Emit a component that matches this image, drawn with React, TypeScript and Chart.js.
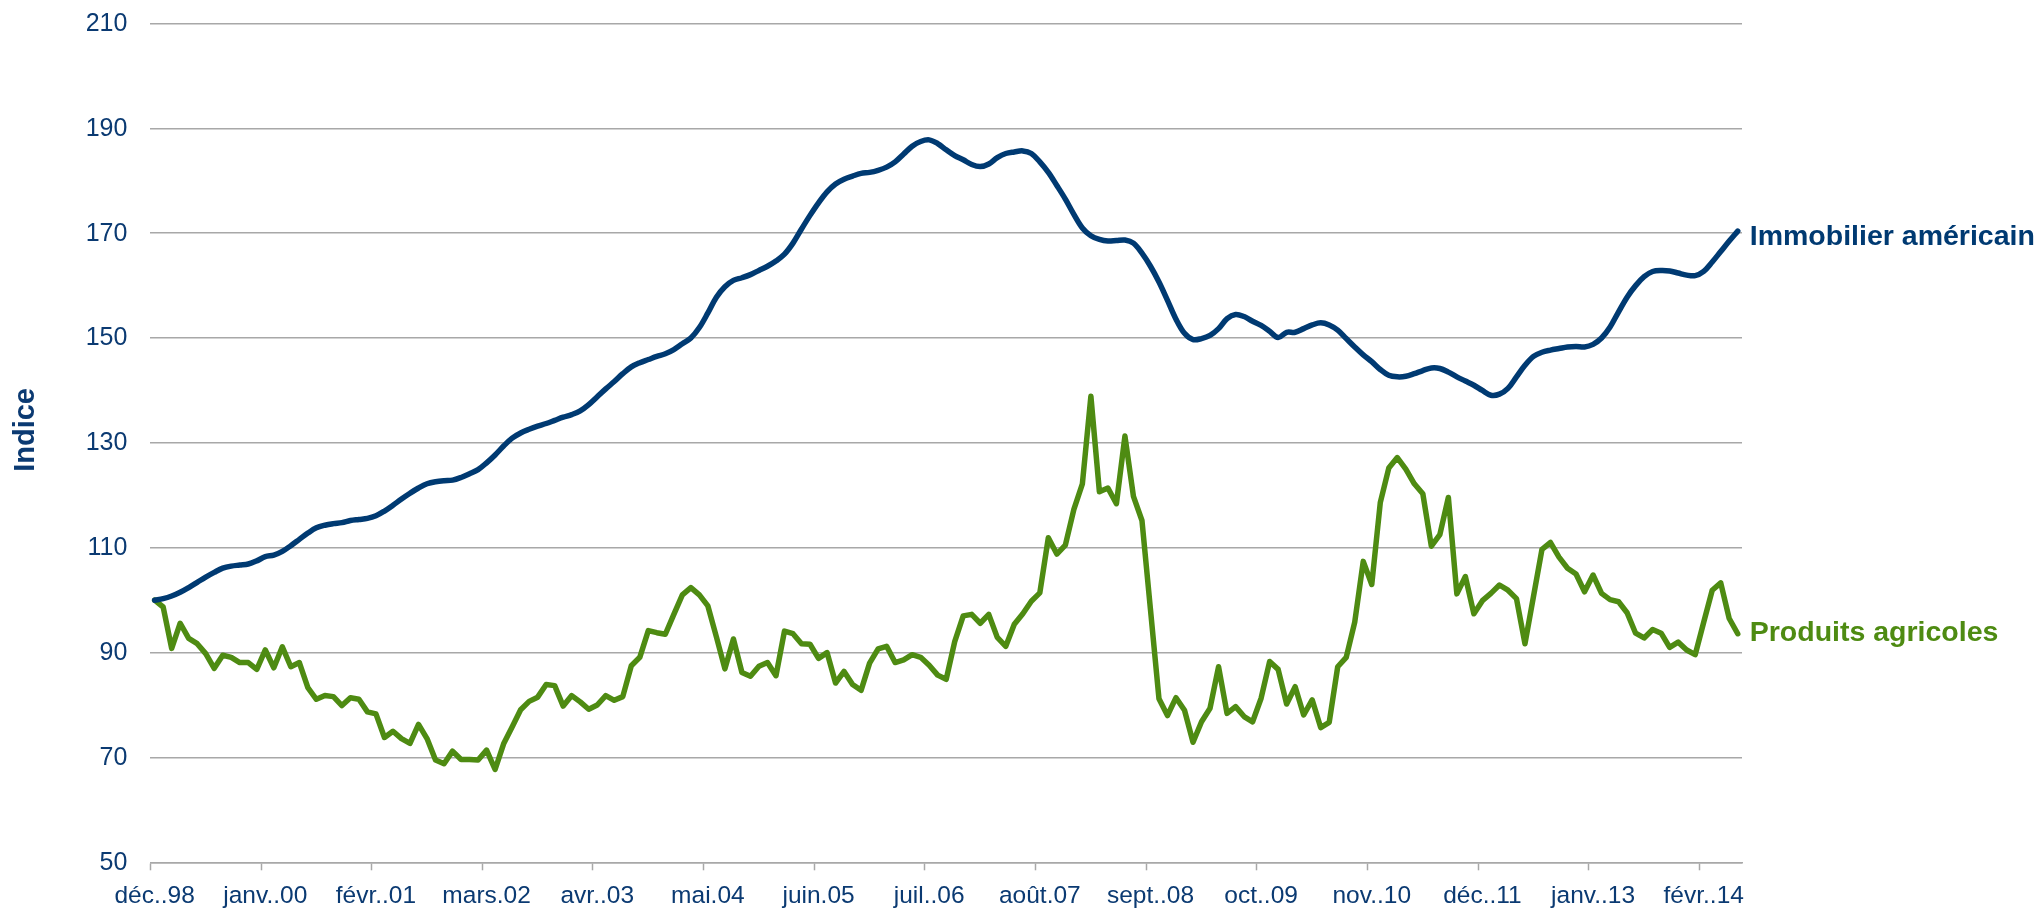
import React, { useEffect, useRef } from "react";
import { Chart, registerables } from "chart.js";

Chart.register(...registerables);

// French month abbreviations used for category labels (format "mmm.yy")
const MONTHS = ["janv.", "févr.", "mars", "avr.", "mai", "juin", "juil.", "août", "sept.", "oct.", "nov.", "déc."];
const START_MONTH = 11; // déc.
const START_YEAR = 1998;
const TICK_STEP = 13;

const Y_MIN = 50;
const Y_MAX = 210;
const Y_STEP = 20;

const SERIES_IMMO_NAME = "Immobilier américain";
const SERIES_AGRI_NAME = "Produits agricoles";
const Y_TITLE = "Indice";

// Immobilier américain (monthly, déc. 1998 -> juin 2014)
const IMMO: number[] = [
  100.0, 100.3, 100.8, 101.5, 102.4, 103.4, 104.4, 105.3, 106.1, 106.5,
  106.7, 106.9, 107.5, 108.3, 108.6, 109.3, 110.4, 111.6, 112.8, 113.8,
  114.3, 114.6, 114.8, 115.2, 115.4, 115.6, 116.1, 117.0, 118.1, 119.3,
  120.4, 121.4, 122.2, 122.6, 122.8, 122.9, 123.4, 124.1, 124.9, 126.2,
  127.7, 129.4, 130.9, 131.9, 132.6, 133.2, 133.7, 134.3, 134.9, 135.4,
  136.1, 137.3, 138.8, 140.3, 141.7, 143.2, 144.5, 145.3, 145.9, 146.5,
  147.0, 147.8, 148.9, 150.0, 152.0, 154.8, 157.8, 159.8, 161.0, 161.5,
  162.1, 162.9, 163.7, 164.7, 166.0, 168.1, 170.8, 173.4, 175.8, 177.9,
  179.4, 180.3, 180.9, 181.4, 181.6, 182.0, 182.6, 183.6, 185.1, 186.6,
  187.5, 187.8, 187.1, 185.9, 184.8, 184.0, 183.1, 182.7, 183.2, 184.4,
  185.2, 185.5, 185.7, 185.2, 183.6, 181.6, 179.1, 176.5, 173.6, 171.0,
  169.5, 168.8, 168.5, 168.6, 168.7, 168.1, 166.2, 163.7, 160.7, 157.2,
  153.6, 150.9, 149.7, 149.9, 150.5, 151.8, 153.7, 154.5, 154.1, 153.2,
  152.4, 151.3, 150.1, 151.1, 151.1, 151.8, 152.5, 152.9, 152.5, 151.5,
  149.9, 148.3, 146.8, 145.5, 144.0, 142.9, 142.6, 142.7, 143.2, 143.8,
  144.3, 144.2, 143.5, 142.6, 141.8, 141.0, 140.0, 139.1, 139.3, 140.4,
  142.6, 144.8, 146.5, 147.3, 147.7, 148.0, 148.3, 148.4, 148.3, 148.8,
  150.0, 152.1, 155.0, 157.8, 160.0, 161.7, 162.7, 162.9, 162.8, 162.4,
  162.0, 161.9, 162.7, 164.5, 166.5, 168.5, 170.4,
];

// Produits agricoles (monthly, déc. 1998 -> juin 2014)
const AGRI: number[] = [
  100.0, 98.7, 90.8, 95.6, 92.7, 91.7, 89.8, 87.0, 89.5, 89.1,
  88.1, 88.1, 86.8, 90.5, 87.1, 91.1, 87.3, 88.1, 83.3, 81.1,
  81.8, 81.6, 79.9, 81.4, 81.1, 78.7, 78.3, 73.8, 75.0, 73.6,
  72.7, 76.3, 73.6, 69.5, 68.8, 71.2, 69.6, 69.6, 69.5, 71.4,
  67.7, 72.6, 75.8, 79.1, 80.7, 81.5, 83.9, 83.7, 79.8, 81.8,
  80.6, 79.2, 80.0, 81.8, 80.9, 81.6, 87.5, 89.1, 94.2, 93.8,
  93.5, 97.3, 101.0, 102.4, 101.0, 98.9, 93.0, 86.9, 92.6, 86.2,
  85.5, 87.4, 88.1, 85.6, 94.1, 93.6, 91.7, 91.6, 88.9, 90.0,
  84.2, 86.4, 83.9, 82.8, 88.0, 90.7, 91.2, 88.1, 88.6, 89.6,
  89.1, 87.6, 85.7, 84.9, 92.1, 97.0, 97.3, 95.6, 97.3, 92.9,
  91.2, 95.4, 97.4, 99.8, 101.4, 111.9, 108.8, 110.5, 117.3, 122.2,
  138.9, 120.7, 121.4, 118.4, 131.3, 119.8, 115.2, 98.2, 81.2, 78.0,
  81.4, 79.0, 72.9, 76.8, 79.4, 87.3, 78.4, 79.7, 77.8, 76.8,
  81.3, 88.3, 86.8, 80.2, 83.5, 78.1, 81.0, 75.7, 76.7, 87.3,
  89.1, 95.8, 107.4, 103.0, 118.6, 125.2, 127.2, 125.0, 122.2, 120.3,
  110.3, 112.5, 119.6, 101.2, 104.5, 97.4, 99.9, 101.3, 102.9, 101.9,
  100.3, 91.7, 100.7, 109.7, 111.0, 108.2, 106.1, 105.0, 101.6, 104.8,
  101.3, 100.1, 99.7, 97.6, 93.7, 92.8, 94.4, 93.7, 91.0, 92.0,
  90.5, 89.6, 95.8, 101.9, 103.3, 96.5, 93.6,
];

const CATEGORIES: string[] = IMMO.map((_, i) => {
  const k = START_MONTH + i;
  const yy = (START_YEAR + Math.floor(k / 12)) % 100;
  return MONTHS[k % 12] + "." + String(yy).padStart(2, "0");
});

const BLUE = "#003A72";
const GREEN = "#4E8B12";
const TEXT_BLUE = "#0B3A72";
const GRID = "#A8A8A8";
const FONT = "'Liberation Sans', Arial, Helvetica, sans-serif";

function drawText(
  ctx: CanvasRenderingContext2D,
  text: string,
  x: number,
  y: number,
  font: string,
  color: string,
  align: CanvasTextAlign,
  baseline: CanvasTextBaseline,
  rotate = 0
) {
  ctx.save();
  ctx.translate(x, y);
  if (rotate) ctx.rotate(rotate);
  ctx.font = font;
  ctx.fillStyle = color;
  ctx.textAlign = align;
  ctx.textBaseline = baseline;
  ctx.fillText(text, 0, 0);
  ctx.restore();
}

const textPlugin = {
  id: "textPlugin",
  afterDraw(chart: any) {
    const ctx: CanvasRenderingContext2D = chart.ctx;
    const xs = chart.scales.x;
    const ys = chart.scales.y;
    const area = chart.chartArea;
    // y tick labels
    for (let v = Y_MIN; v <= Y_MAX; v += Y_STEP) {
      drawText(ctx, String(v), area.left - 23, ys.getPixelForValue(v) + 0.5, `25px ${FONT}`, TEXT_BLUE, "right", "middle");
    }
    // x tick labels
    for (let i = 0; i < CATEGORIES.length; i += TICK_STEP) {
      drawText(ctx, CATEGORIES[i], xs.getPixelForValue(i), area.bottom + 40.5, `24.5px ${FONT}`, TEXT_BLUE, "center", "alphabetic");
    }
    // y title
    drawText(ctx, Y_TITLE, 26, (area.top + area.bottom) / 2 - 13, `bold 29px ${FONT}`, TEXT_BLUE, "center", "middle", -Math.PI / 2);
    // end labels
    const last = IMMO.length - 1;
    const lx = xs.getPixelForValue(last) + 12;
    drawText(ctx, SERIES_IMMO_NAME, lx, ys.getPixelForValue(IMMO[last]) + 6, `bold 28.5px ${FONT}`, BLUE, "left", "middle");
    drawText(ctx, SERIES_AGRI_NAME, lx, ys.getPixelForValue(AGRI[last]) - 1, `bold 28.5px ${FONT}`, GREEN, "left", "middle");
  },
};

export default function App() {
  const ref = useRef<HTMLCanvasElement | null>(null);
  useEffect(() => {
    if (!ref.current) return;
    const chart = new Chart(ref.current, {
      type: "line",
      data: {
        labels: CATEGORIES,
        datasets: [
          {
            label: SERIES_IMMO_NAME,
            data: IMMO,
            borderColor: BLUE,
            borderWidth: 5.5,
            pointRadius: 0,
            tension: 0.35,
            borderCapStyle: "round",
            borderJoinStyle: "round",
          },
          {
            label: SERIES_AGRI_NAME,
            data: AGRI,
            borderColor: GREEN,
            borderWidth: 5.5,
            pointRadius: 0,
            tension: 0,
            borderCapStyle: "round",
            borderJoinStyle: "round",
          },
        ],
      },
      options: {
        responsive: false,
        maintainAspectRatio: false,
        devicePixelRatio: 1,
        animation: false,
        layout: { padding: { left: 150.4, right: 298, top: 23.5, bottom: 38.7 } },
        plugins: { legend: { display: false }, tooltip: { enabled: false } },
        scales: {
          x: {
            type: "category",
            offset: true,
            ticks: { display: false, autoSkip: false },
            grid: {
              offset: true,
              drawOnChartArea: false,
              drawTicks: true,
              tickLength: 8,
              tickWidth: 1.5,
              tickColor: (c: any) => (c.index % TICK_STEP === 0 ? GRID : "rgba(0,0,0,0)"),
            },
            border: { display: true, color: GRID, width: 1.5 },
          },
          y: {
            min: Y_MIN,
            max: Y_MAX,
            ticks: { display: false, stepSize: Y_STEP },
            grid: { color: GRID, lineWidth: 1.5, drawTicks: false },
            border: { display: false },
          },
        },
      },
      plugins: [textPlugin],
    });
    return () => chart.destroy();
  }, []);
  return (
    <div style={{ position: "fixed", left: 0, top: 0, width: 2040, height: 909, background: "#fff" }}>
      <canvas ref={ref} width={2040} height={909} style={{ display: "block", width: 2040, height: 909 }} />
    </div>
  );
}
